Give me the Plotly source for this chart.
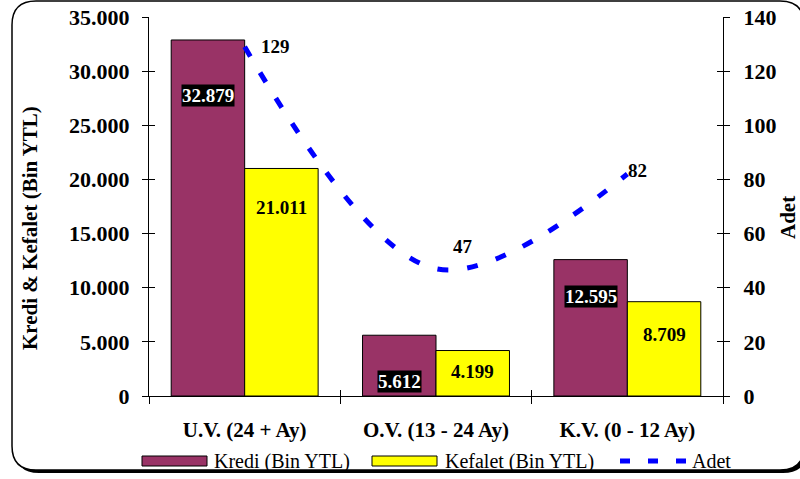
import plotly.graph_objects as go

# Maturity buckets and their values
categories = ["U.V. (24 + Ay)", "O.V. (13 - 24 Ay)", "K.V. (0 - 12 Ay)"]
kredi = [32879, 5612, 12595]      # Bin YTL
kefalet = [21011, 4199, 8709]     # Bin YTL
adet = [129, 47, 82]              # count

left_ticks = [0, 5000, 10000, 15000, 20000, 25000, 30000, 35000]
right_ticks = [0, 20, 40, 60, 80, 100, 120, 140]

# Label offsets (pixels below the bar top) and line-label offsets
kredi_label_shift = [-56, -46, -37]
kefalet_label_shift = [-39, -21, -33]
adet_label_shift = [(14, 0), (15, 22), (-1, 4)]

FONT = "Liberation Serif"
W, H = 800, 479
ML, MR, MT, MB = 149, 77, 17, 83
PW, PH = W - ML - MR, H - MT - MB


def tr(v):
    return f"{v:,}".replace(",", ".")


def X(p):
    return (p - ML) / PW


def Y(p):
    return (H - MB - p) / PH


def rounded(l, t, r, b, rad):
    return (f"M {X(l)},{Y(t + rad)} Q {X(l)},{Y(t)} {X(l + rad)},{Y(t)} "
            f"L {X(r - rad)},{Y(t)} Q {X(r)},{Y(t)} {X(r)},{Y(t + rad)} "
            f"L {X(r)},{Y(b - rad)} Q {X(r)},{Y(b)} {X(r - rad)},{Y(b)} "
            f"L {X(l + rad)},{Y(b)} Q {X(l)},{Y(b)} {X(l)},{Y(b - rad)} Z")


fig = go.Figure()

fig.add_trace(go.Bar(
    x=categories, y=kredi, name="Kredi (Bin YTL)",
    marker=dict(color="#993366", line=dict(color="black", width=1)),
))
fig.add_trace(go.Bar(
    x=categories, y=kefalet, name="Kefalet (Bin YTL)",
    marker=dict(color="#FFFF00", line=dict(color="black", width=1)),
))
fig.add_trace(go.Scatter(
    x=categories, y=adet, name="Adet", yaxis="y2", mode="lines",
    line=dict(color="#0000FF", width=5, dash="11px,19px", shape="spline", smoothing=1),
))
# helper traces so the inner halves of the crossing ticks get drawn
fig.add_trace(go.Scatter(x=categories, y=[None] * 3, xaxis="x2", yaxis="y3",
                         hoverinfo="skip", showlegend=False))
fig.add_trace(go.Scatter(x=categories, y=[None] * 3, yaxis="y4",
                         hoverinfo="skip", showlegend=False))

tickfont = dict(family=FONT, size=22, color="black", weight="bold")

fig.update_layout(
    width=W, height=H,
    margin=dict(l=ML, r=MR, t=MT, b=MB, autoexpand=False),
    paper_bgcolor="white", plot_bgcolor="rgba(0,0,0,0)",
    font=dict(family=FONT),
    showlegend=False,
    barmode="group", bargap=0.232, bargroupgap=0,
    xaxis=dict(type="category", range=[-0.5, 2.5], showline=True, linecolor="black",
               linewidth=1, ticks="outside", tickson="boundaries", ticklen=7,
               tickcolor="black", tickfont=dict(family=FONT, size=21, color="black", weight="bold"),
               ticklabelstandoff=15, showgrid=False, zeroline=False, automargin=False),
    xaxis2=dict(type="category", range=[-0.5, 2.5], overlaying="x", anchor="y",
                ticks="inside", tickson="boundaries", ticklen=6, tickcolor="black",
                showticklabels=False, showline=False, showgrid=False, zeroline=False,
                automargin=False),
    yaxis=dict(range=[0, 35000], tickvals=left_ticks, ticktext=[tr(v) for v in left_ticks],
               showline=True, linecolor="black", linewidth=1, ticks="outside", ticklen=6,
               tickcolor="black", tickfont=tickfont, ticklabelstandoff=8,
               showgrid=False, zeroline=False, automargin=False),
    yaxis2=dict(range=[0, 140], tickvals=right_ticks, overlaying="y", side="right",
                anchor="x", showline=True, linecolor="black", linewidth=1, ticks="outside",
                ticklen=6, tickcolor="black", tickfont=tickfont, ticklabelstandoff=9,
                showgrid=False, zeroline=False, automargin=False),
    yaxis3=dict(range=[0, 35000], tickvals=left_ticks, overlaying="y", side="left", anchor="x2",
                ticks="inside", ticklen=6, tickcolor="black", showticklabels=False,
                showline=False, showgrid=False, zeroline=False, automargin=False),
    yaxis4=dict(range=[0, 140], tickvals=right_ticks, overlaying="y", side="right", anchor="x",
                ticks="inside", ticklen=6, tickcolor="black", showticklabels=False,
                showline=False, showgrid=False, zeroline=False, automargin=False),
)

shapes = [
    # rounded frame with a drop shadow
    dict(type="path", xref="paper", yref="paper", layer="below",
         path=rounded(15, 4, 807, 473, 24), fillcolor="black", line=dict(width=0)),
    dict(type="path", xref="paper", yref="paper", layer="below",
         path=rounded(12, 1, 804, 470, 24), fillcolor="white",
         line=dict(color="black", width=1.5)),
    # legend keys
    dict(type="rect", xref="paper", yref="paper", x0=X(142), x1=X(207), y0=Y(466), y1=Y(456),
         fillcolor="#993366", line=dict(color="black", width=1)),
    dict(type="rect", xref="paper", yref="paper", x0=X(372), x1=X(437), y0=Y(466), y1=Y(456),
         fillcolor="#FFFF00", line=dict(color="black", width=1)),
    dict(type="line", xref="paper", yref="paper", x0=X(620), x1=X(688), y0=Y(461), y1=Y(461),
         line=dict(color="#0000FF", width=5, dash="10px,18px")),
]
fig.update_layout(shapes=shapes)

ann = []
off = (1 - 0.232) / 4
lab = dict(family=FONT, size=19, weight="bold")
for i, v in enumerate(kredi):
    ann.append(dict(x=i - off, y=v, xref="x", yref="y", text=tr(v), showarrow=False,
                    xanchor="center", yanchor="middle", yshift=kredi_label_shift[i],
                    bgcolor="black", borderpad=0, font=dict(lab, color="white")))
for i, v in enumerate(kefalet):
    ann.append(dict(x=i + off, y=v, xref="x", yref="y", text=tr(v), showarrow=False,
                    xanchor="center", yanchor="middle", yshift=kefalet_label_shift[i],
                    font=dict(lab, color="black")))
for i, v in enumerate(adet):
    dx, dy = adet_label_shift[i]
    ann.append(dict(x=i, y=v, xref="x", yref="y2", text=str(v), showarrow=False,
                    xanchor="left", yanchor="middle", xshift=dx, yshift=dy,
                    font=dict(lab, color="black")))

# axis titles
titlefont = dict(family=FONT, size=21, color="black", weight="bold")
ann.append(dict(x=X(30), y=Y(228), xref="paper", yref="paper", text="Kredi & Kefalet (Bin YTL)",
                textangle=-90, showarrow=False, xanchor="center", yanchor="middle",
                font=titlefont))
ann.append(dict(x=X(788), y=Y(218), xref="paper", yref="paper", text="Adet",
                textangle=-90, showarrow=False, xanchor="center", yanchor="middle",
                font=titlefont))

# legend texts
legfont = dict(family=FONT, size=20, color="black")
for txt, xp in [("Kredi (Bin YTL)", 212), ("Kefalet (Bin YTL)", 443), ("Adet", 690)]:
    ann.append(dict(x=X(xp), y=Y(461), xref="paper", yref="paper", text=txt, showarrow=False,
                    xanchor="left", yanchor="middle", font=legfont))

fig.update_layout(annotations=ann)

fig.write_html("out.html")
